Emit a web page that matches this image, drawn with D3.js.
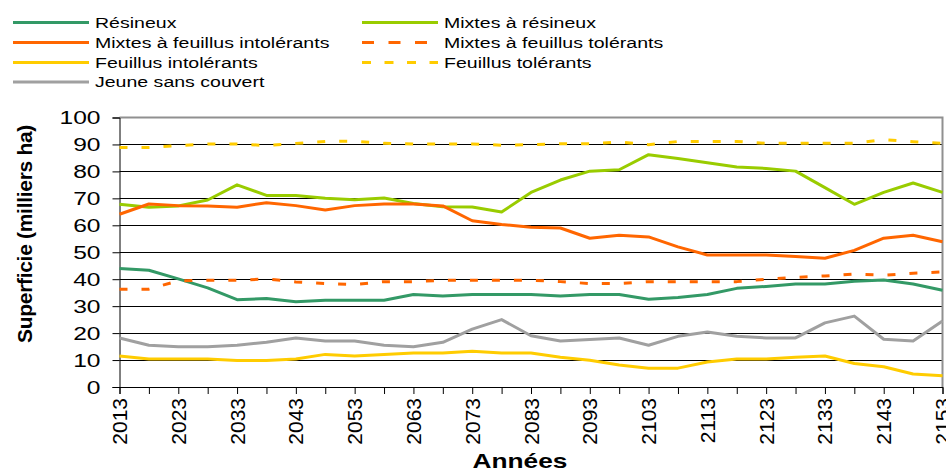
<!DOCTYPE html>
<html>
<head>
<meta charset="utf-8">
<script src="https://cdn.jsdelivr.net/npm/d3@7"></script>
<style>
  html, body { margin: 0; padding: 0; background: #fff; }
  svg text { font-family: "Liberation Sans", Arial, sans-serif; fill: #000; }
</style>
</head>
<body>
<svg id="chart" width="946" height="470"></svg>
<script>
// ---- Data ----
const years = [2013, 2018, 2023, 2028, 2033, 2038, 2043, 2048, 2053, 2058, 2063, 2068, 2073, 2078, 2083,
               2088, 2093, 2098, 2103, 2108, 2113, 2118, 2123, 2128, 2133, 2138, 2143, 2148, 2153];
const tickYears = [2013, 2023, 2033, 2043, 2053, 2063, 2073, 2083, 2093, 2103, 2113, 2123, 2133, 2143, 2153];
const yTicks = [0, 10, 20, 30, 40, 50, 60, 70, 80, 90, 100];

const resineux = [44.0, 43.3, 40.1, 36.8, 32.4, 32.8, 31.6, 32.2, 32.2, 32.2, 34.3, 33.8, 34.3, 34.3, 34.3,
                  33.8, 34.3, 34.3, 32.6, 33.2, 34.3, 36.6, 37.3, 38.2, 38.2, 39.2, 39.7, 38.2, 35.9];
const mixtesResineux = [67.8, 66.7, 67.2, 69.4, 75.0, 71.1, 71.1, 70.0, 69.5, 70.1, 68.1, 66.9, 66.8, 64.9, 72.2,
                        76.8, 80.1, 80.6, 86.2, 84.8, 83.2, 81.6, 81.1, 80.1, 74.0, 67.8, 72.2, 75.7, 72.2];
const mixtesFeuillusIntol = [64.1, 67.9, 67.3, 67.2, 66.7, 68.4, 67.3, 65.7, 67.3, 67.9, 67.9, 67.2, 61.7, 60.3, 59.3,
                             59.0, 55.2, 56.3, 55.7, 52.0, 49.0, 49.0, 49.0, 48.4, 47.8, 50.7, 55.2, 56.3, 53.9];
const mixtesFeuillusTol = [36.3, 36.3, 39.4, 39.6, 39.6, 40.1, 39.0, 38.4, 38.0, 39.1, 39.1, 39.6, 39.6, 39.6, 39.6,
                           39.1, 38.4, 38.4, 39.1, 39.1, 39.1, 39.1, 40.0, 40.7, 41.2, 41.9, 41.5, 42.2, 42.7];
const feuillusIntol = [11.5, 10.4, 10.4, 10.4, 9.8, 9.8, 10.4, 12.1, 11.5, 12.1, 12.6, 12.6, 13.3, 12.6, 12.6,
                       11.0, 9.9, 8.2, 7.0, 7.0, 9.3, 10.4, 10.4, 11.0, 11.5, 8.7, 7.5, 4.8, 4.2];
const feuillusTol = [88.9, 88.9, 89.6, 90.2, 90.2, 89.6, 90.4, 91.1, 91.2, 90.4, 90.2, 90.2, 90.2, 89.7, 89.9,
                     90.3, 90.3, 90.9, 89.9, 91.1, 91.1, 91.1, 90.4, 90.4, 90.4, 90.4, 91.8, 91.0, 90.4];
const jeune = [18.2, 15.5, 14.9, 14.9, 15.5, 16.6, 18.2, 17.1, 17.1, 15.5, 14.9, 16.6, 21.5, 25.0, 19.0,
               17.1, 17.6, 18.2, 15.5, 18.8, 20.4, 18.8, 18.2, 18.2, 23.8, 26.3, 17.7, 17.1, 24.5];

const seriesNames = ["Résineux", "Mixtes à résineux", "Mixtes à feuillus intolérants", "Mixtes à feuillus tolérants",
                     "Feuillus intolérants", "Feuillus tolérants", "Jeune sans couvert"];
const seriesValues = [resineux, mixtesResineux, mixtesFeuillusIntol, mixtesFeuillusTol, feuillusIntol, feuillusTol, jeune];
const seriesColors = ["#339966", "#99CC00", "#FF6600", "#FF6600", "#FFCC00", "#FFCC00", "#A0A0A0"];
const seriesDash = [null, null, null, "8,14", null, "8,14", null];
const legendDash = [null, null, null, "12,14.5", null, "9,13.5", null];

// ---- Layout ----
const svg = d3.select("#chart");
const mLeft = 119.5, mRight = 942.5, mTop = 117.5, mBottom = 387;

const x = d3.scaleLinear().domain([2013, 2153]).range([mLeft, mRight]);
const y = d3.scaleLinear().domain([0, 100]).range([mBottom, mTop]);

// gridlines
svg.append("g").selectAll("line").data(yTicks.filter(d => d > 0 && d < 100)).join("line")
  .attr("x1", mLeft).attr("x2", mRight)
  .attr("y1", d => Math.round(y(d)) + 0.5).attr("y2", d => Math.round(y(d)) + 0.5)
  .attr("stroke", "#000").attr("stroke-width", 1);

// plot border (top & right gray)
svg.append("path")
  .attr("d", `M${mLeft},${mTop}H${mRight}V${mBottom}`)
  .attr("fill", "none").attr("stroke", "#909090").attr("stroke-width", 2);

// Y axis
const yAxis = d3.axisLeft(y).tickValues(yTicks).tickSize(7).tickPadding(0).tickFormat(d3.format("d"));
const gy = svg.append("g").attr("transform", `translate(${mLeft},0)`).call(yAxis);
gy.select(".domain").attr("stroke", "#000");
gy.selectAll(".tick line").attr("stroke", "#000");
gy.selectAll(".tick text").remove();
gy.selectAll(".tick").append("text")
  .attr("text-anchor", "end")
  .attr("dy", "0.35em")
  .attr("font-size", "18.5px")
  .attr("transform", "translate(-19,0) scale(1.33,1)")
  .attr("fill", "#000")
  .text(d => d);

// X axis
const xAxis = d3.axisBottom(x).tickValues(years).tickSize(7).tickFormat("");
const gx = svg.append("g").attr("transform", `translate(0,${mBottom})`).call(xAxis);
gx.select(".domain").attr("stroke", "#000");
gx.selectAll(".tick line").attr("stroke", "#000");
gx.selectAll(".tick").filter(d => tickYears.includes(d)).append("text")
  .attr("transform", "translate(7,11) rotate(-90)")
  .attr("text-anchor", "end")
  .attr("font-size", "21px")
  .attr("fill", "#000")
  .text(d => d);

// Axis titles
svg.append("text")
  .attr("transform", "translate(32,234) rotate(-90)")
  .attr("text-anchor", "middle")
  .attr("font-weight", "bold")
  .attr("font-size", "21px")
  .attr("letter-spacing", "-0.3px")
  .text("Superficie (milliers ha)");

svg.append("text")
  .attr("transform", "translate(520,468) scale(1.25,1)")
  .attr("text-anchor", "middle")
  .attr("font-weight", "bold")
  .attr("font-size", "21px")
  .text("Années");

// Lines
const line = d3.line().x((d, i) => x(years[i])).y(d => y(d));
svg.append("g").selectAll("path").data(seriesValues).join("path")
  .attr("d", d => line(d))
  .attr("fill", "none")
  .attr("stroke", (d, i) => seriesColors[i])
  .attr("stroke-width", 3)
  .attr("stroke-dasharray", (d, i) => seriesDash[i])
  .attr("stroke-linejoin", "round");

// Legend
const legendPos = [[13, 22.5], [362, 22.5], [13, 42.5], [362, 42.5], [13, 62.5], [362, 62.5], [13, 82]];
const lg = svg.append("g").selectAll("g").data(seriesNames).join("g")
  .attr("transform", (d, i) => `translate(${legendPos[i][0]},${legendPos[i][1]})`);
lg.append("line")
  .attr("x1", 0).attr("x2", 76).attr("y1", 0).attr("y2", 0)
  .attr("stroke", (d, i) => seriesColors[i])
  .attr("stroke-width", 3)
  .attr("stroke-dasharray", (d, i) => legendDash[i]);
lg.append("text")
  .attr("transform", "translate(82,0) scale(1.26,1)")
  .attr("dy", "0.35em")
  .attr("font-size", "15.5px")
  .text(d => d);
</script>
</body>
</html>
